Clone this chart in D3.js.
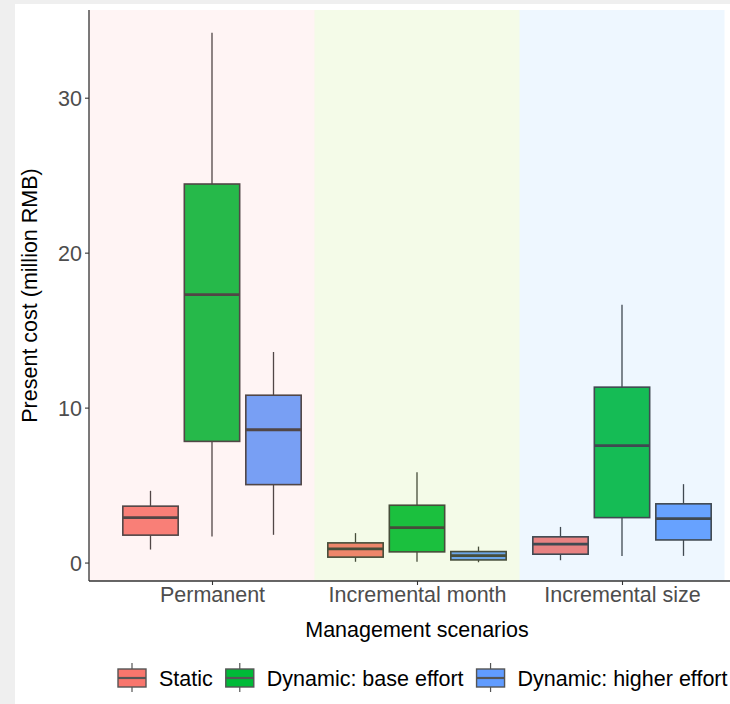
<!DOCTYPE html>
<html>
<head>
<meta charset="utf-8">
<script src="https://cdn.jsdelivr.net/npm/d3@7"></script>
<style>
  html, body { margin: 0; padding: 0; background: #ffffff; }
  svg { display: block; font-family: "Liberation Sans", Arial, sans-serif; }
</style>
</head>
<body>
<svg id="chart" width="730" height="704"></svg>
<script>
// Management scenarios on the x axis, cost scenarios as dodged boxes
const categories = ["Permanent", "Incremental month", "Incremental size"];
const series = ["Static", "Dynamic: base effort", "Dynamic: higher effort"];
const seriesColors = ["#F8766D", "#00BA38", "#619CFF"];

// Box statistics (million RMB), one value per category
const staticLow   = [0.84, 0.05, 0.15];
const staticQ1    = [1.77, 0.35, 0.54];
const staticMed   = [2.90, 0.88, 1.19];
const staticQ3    = [3.64, 1.27, 1.66];
const staticHigh  = [4.63, 1.90, 2.30];

const baseLow     = [1.68, 0.05, 0.43];
const baseQ1      = [7.82, 0.69, 2.90];
const baseMed     = [17.29, 2.26, 7.55];
const baseQ3      = [24.43, 3.70, 11.32];
const baseHigh    = [34.19, 5.83, 16.63];

const higherLow   = [1.79, 0.02, 0.43];
const higherQ1    = [5.03, 0.17, 1.46];
const higherMed   = [8.57, 0.45, 2.84];
const higherQ3    = [10.80, 0.71, 3.79];
const higherHigh  = [13.59, 1.03, 5.06];

const yTicks = [0, 10, 20, 30];

// Shading behind each scenario group (drawn translucently)
const bandColors = ["rgb(255,182,182)", "rgb(182,228,102)", "rgb(142,202,255)"];
const bandOpacity = 0.15;

const statsBySeries = [
  [staticLow, staticQ1, staticMed, staticQ3, staticHigh],
  [baseLow, baseQ1, baseMed, baseQ3, baseHigh],
  [higherLow, higherQ1, higherMed, higherQ3, higherHigh]
];

const boxes = [];
series.forEach((s, si) => {
  categories.forEach((c, ci) => {
    const st = statsBySeries[si];
    boxes.push({
      category: c, series: s, color: seriesColors[si],
      low: st[0][ci], q1: st[1][ci], med: st[2][ci], q3: st[3][ci], high: st[4][ci]
    });
  });
});

const svg = d3.select("#chart");
const W = 730, H = 704;

// page frame
svg.append("rect").attr("x", 0).attr("y", 0).attr("width", W).attr("height", H).attr("fill", "#efefef");
svg.append("rect").attr("x", 15).attr("y", 4).attr("width", W - 15).attr("height", H - 4).attr("fill", "#ffffff");

const panel = { left: 89, right: 745, top: 10, bottom: 581 };

const x = d3.scalePoint().domain(categories).range([panel.left, panel.right]).padding(0.6);
const step = x.step();
const dodge = d3.scaleBand().domain(series).range([-0.45 * step, 0.45 * step]);
const boxW = dodge.bandwidth() * 0.9;

const y = d3.scaleLinear().domain([-1.19, 35.66]).range([panel.bottom, panel.top]);

const plot = svg.append("g");

// boxes
const g = plot.selectAll("g.box").data(boxes).enter().append("g")
  .attr("class", "box")
  .attr("transform", d => `translate(${x(d.category) + dodge(d.series) + dodge.bandwidth() / 2},0)`);

g.append("line").attr("x1", 0).attr("x2", 0)
  .attr("y1", d => y(d.high)).attr("y2", d => y(d.q3))
  .attr("stroke", "#333333").attr("stroke-width", 1.3);
g.append("line").attr("x1", 0).attr("x2", 0)
  .attr("y1", d => y(d.q1)).attr("y2", d => y(d.low))
  .attr("stroke", "#333333").attr("stroke-width", 1.3);
g.append("rect")
  .attr("x", -boxW / 2).attr("width", boxW)
  .attr("y", d => y(d.q3)).attr("height", d => y(d.q1) - y(d.q3))
  .attr("fill", d => d.color).attr("stroke", "#333333").attr("stroke-width", 1.6);
g.append("line").attr("x1", -boxW / 2).attr("x2", boxW / 2)
  .attr("y1", d => y(d.med)).attr("y2", d => y(d.med))
  .attr("stroke", "#333333").attr("stroke-width", 2.8);

// translucent scenario shading over the panel
const bandData = categories.map((c, i) => ({
  x0: i === 0 ? panel.left : x(c) - step / 2,
  x1: x(c) + step / 2,
  color: bandColors[i]
}));
plot.selectAll("rect.band").data(bandData).enter().append("rect")
  .attr("class", "band")
  .attr("x", d => d.x0).attr("width", d => d.x1 - d.x0)
  .attr("y", panel.top).attr("height", panel.bottom - panel.top)
  .attr("fill", d => d.color).attr("fill-opacity", bandOpacity);

// axes
const yAxis = d3.axisLeft(y).tickValues(yTicks).tickSize(4).tickPadding(3).tickFormat(d3.format("d"));
const yg = svg.append("g").attr("transform", `translate(${panel.left},0)`).call(yAxis);
yg.select(".domain").remove();
yg.selectAll(".tick line").attr("stroke", "#333333").attr("stroke-width", 1.1);
yg.selectAll(".tick text").attr("fill", "#4d4d4d").attr("font-size", "21.5px")
  .attr("font-family", "Liberation Sans, Arial, sans-serif").attr("dy", "0.36em");
svg.append("line").attr("x1", panel.left).attr("x2", panel.left)
  .attr("y1", panel.top).attr("y2", panel.bottom)
  .attr("stroke", "#333333").attr("stroke-width", 1.3);

const xAxis = d3.axisBottom(x).tickSize(4).tickPadding(3);
const xg = svg.append("g").attr("transform", `translate(0,${panel.bottom})`).call(xAxis);
xg.select(".domain").remove();
xg.selectAll(".tick line").attr("stroke", "#333333").attr("stroke-width", 1.1);
xg.selectAll(".tick text").attr("fill", "#4d4d4d").attr("font-size", "21.5px")
  .attr("font-family", "Liberation Sans, Arial, sans-serif")
  .attr("dy", null).attr("y", 21);
svg.append("line").attr("x1", panel.left).attr("x2", panel.right)
  .attr("y1", panel.bottom).attr("y2", panel.bottom)
  .attr("stroke", "#333333").attr("stroke-width", 1.3);

// axis titles
svg.append("text")
  .attr("x", (panel.left + panel.right) / 2).attr("y", 637)
  .attr("text-anchor", "middle").attr("font-size", "21.5px").attr("fill", "#000000")
  .text("Management scenarios");
svg.append("text")
  .attr("transform", `translate(36.5,${(panel.top + panel.bottom) / 2}) rotate(-90)`)
  .attr("text-anchor", "middle").attr("font-size", "21.5px").attr("fill", "#000000")
  .text("Present cost (million RMB)");

// legend
const legend = svg.append("g");
let lx = 118;
const ly = 678;
series.forEach((s, i) => {
  const k = legend.append("g").attr("transform", `translate(${lx},${ly})`);
  k.append("line").attr("x1", 14).attr("x2", 14).attr("y1", -15).attr("y2", 14)
    .attr("stroke", "#555555").attr("stroke-width", 1.2);
  k.append("rect").attr("x", 0).attr("y", -9).attr("width", 28).attr("height", 18)
    .attr("fill", seriesColors[i]).attr("stroke", "#555555").attr("stroke-width", 1.4);
  k.append("line").attr("x1", 0).attr("x2", 28).attr("y1", 0).attr("y2", 0)
    .attr("stroke", "#555555").attr("stroke-width", 2.2);
  const t = k.append("text").attr("x", 41).attr("y", 8)
    .attr("font-size", "21.5px").attr("fill", "#000000").text(s);
  lx += 41 + t.node().getComputedTextLength() + 13;
});
</script>
</body>
</html>
